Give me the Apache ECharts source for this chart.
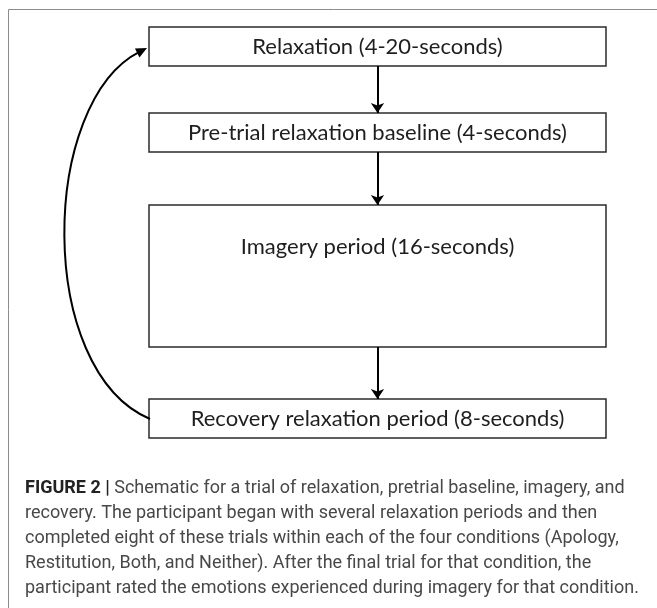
<!DOCTYPE html>
<html>
<head>
<meta charset="utf-8">
<script src="https://cdn.jsdelivr.net/npm/echarts@6/dist/echarts.min.js"></script>
<style>
  html, body { margin: 0; padding: 0; background: #fff; }
  #chart { width: 657px; height: 608px; }
</style>
</head>
<body>
<div id="chart"></div>
<script>
// flow steps, top to bottom
const steps = [
  'Relaxation (4-20-seconds)',
  'Pre-trial relaxation baseline (4-seconds)',
  'Imagery period (16-seconds)',
  'Recovery relaxation period (8-seconds)'
]
const boxLeft = 149
const boxRight = 606
const boxTop = [27, 113, 205, 399]
const boxBottom = [66, 152, 347, 438]
const labelY = [47, 133, 247, 419]

// return loop: recovery -> relaxation (cubic curve, start, ctrl1, ctrl2, end)
const loopCurve = [[150, 419], [35, 370], [40, 102], [147, 48]]

const captionLines = [
  'Schematic for a trial of relaxation, pretrial baseline, imagery, and',
  'recovery. The participant began with several relaxation periods and then',
  'completed eight of these trials within each of the four conditions (Apology,',
  'Restitution, Both, and Neither). After the final trial for that condition, the',
  'participant rated the emotions experienced during imagery for that condition.'
]

const chart = echarts.init(document.getElementById('chart'))

const boxData = steps.map((s, i) => [boxLeft, boxTop[i], boxRight, boxBottom[i], labelY[i], s])
const arrowData = steps.slice(1).map((s, i) => ({
  coords: [[(boxLeft + boxRight) / 2, boxBottom[i]], [(boxLeft + boxRight) / 2, boxTop[i + 1]]]
}))

const option = {
  animation: false,
  grid: { left: 0, right: 0, top: 0, bottom: 0 },
  xAxis: { type: 'value', min: 0, max: 657, show: false },
  yAxis: { type: 'value', min: 0, max: 608, inverse: true, show: false },
  title: {
    left: 25,
    top: 476,
    padding: 0,
    text: '{b|FIGURE 2 |} ' + captionLines.join('\n'),
    textStyle: {
      fontFamily: 'Roboto',
      fontSize: 18,
      fontWeight: 'normal',
      color: '#484848',
      lineHeight: 25,
      rich: {
        b: { fontFamily: 'Roboto', fontSize: 18, fontWeight: 'bold', color: '#222', lineHeight: 25 }
      }
    }
  },
  graphic: [{
    type: 'rect',
    shape: { x: 8.5, y: 9.5, width: 700, height: 700 },
    style: { fill: 'none', stroke: '#8c8c8c', lineWidth: 1 },
    silent: true
  }],
  series: [
    {
      type: 'custom',
      coordinateSystem: 'cartesian2d',
      data: boxData,
      renderItem: (params, api) => {
        const p0 = api.coord([api.value(0), api.value(1)])
        const p1 = api.coord([api.value(2), api.value(3)])
        const ty = api.coord([0, api.value(4)])[1]
        const name = boxData[params.dataIndex][5]
        return {
          type: 'group',
          children: [
            {
              type: 'rect',
              shape: { x: p0[0], y: p0[1], width: p1[0] - p0[0], height: p1[1] - p0[1] },
              style: { fill: '#fff', stroke: '#2b2b2b', lineWidth: 1.5 }
            },
            {
              type: 'text',
              x: (p0[0] + p1[0]) / 2,
              y: ty,
              style: {
                text: name,
                fill: '#1e1e1e',
                font: '22px Lato',
                align: 'center',
                verticalAlign: 'middle'
              }
            }
          ]
        }
      }
    },
    {
      type: 'lines',
      coordinateSystem: 'cartesian2d',
      symbol: ['none', 'arrow'],
      symbolSize: [9, 10],
      lineStyle: { color: '#000', width: 2, opacity: 1, curveness: 0 },
      data: arrowData,
      z: 3
    },
    {
      type: 'custom',
      coordinateSystem: 'cartesian2d',
      data: [loopCurve[0]],
      renderItem: (params, api) => {
        const pts = loopCurve.map(p => api.coord(p))
        const end = pts[3]
        const c2 = pts[2]
        const ang = Math.atan2(end[1] - c2[1], end[0] - c2[0])
        const len = 11
        const half = 5
        const bx = end[0] - len * Math.cos(ang)
        const by = end[1] - len * Math.sin(ang)
        const nx = -Math.sin(ang)
        const ny = Math.cos(ang)
        return {
          type: 'group',
          children: [
            {
              type: 'bezierCurve',
              shape: {
                x1: pts[0][0], y1: pts[0][1],
                cpx1: pts[1][0], cpy1: pts[1][1],
                cpx2: pts[2][0], cpy2: pts[2][1],
                x2: bx + 3 * Math.cos(ang), y2: by + 3 * Math.sin(ang)
              },
              style: { stroke: '#000', lineWidth: 2, fill: 'none' }
            },
            {
              type: 'polygon',
              shape: { points: [end, [bx + nx * half, by + ny * half], [bx - nx * half, by - ny * half]] },
              style: { fill: '#000' }
            }
          ]
        }
      },
      z: 3
    }
  ]
}

chart.setOption(option)
</script>
</body>
</html>
